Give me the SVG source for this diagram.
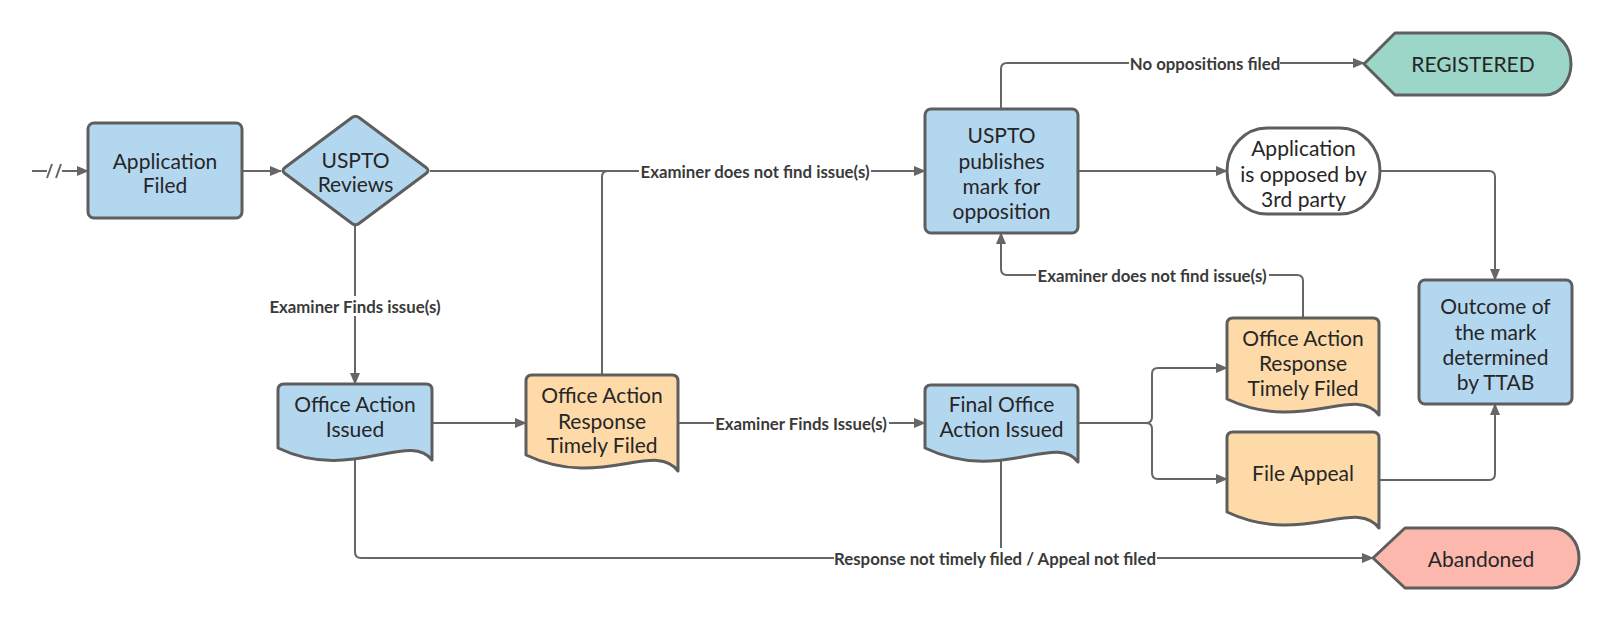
<svg xmlns="http://www.w3.org/2000/svg" width="1600" height="626" viewBox="0 0 1600 626">
<defs>
<marker id="arr" viewBox="0 0 12 10" refX="11" refY="5" markerWidth="12" markerHeight="10" markerUnits="userSpaceOnUse" orient="auto">
<path d="M0,0 L12,5 L0,10 Z" fill="#666"/>
</marker>
<style>
.n{stroke:#5e5e5e;stroke-width:3;stroke-linejoin:round}
.blue{fill:#b4d7f0}
.org{fill:#fedaa8}
.teal{fill:#9bd6c8}
.pink{fill:#fdb8ad}
.wht{fill:#fff}
.t{font-family:Lato,"Noto Sans","Liberation Sans",sans-serif;font-size:21px;fill:#262626;text-anchor:middle;dominant-baseline:central}
.c{fill:none;stroke:#666;stroke-width:2}
.ca{fill:none;stroke:#666;stroke-width:2;marker-end:url(#arr)}
.lb{fill:#fff}
.l{font-family:Lato,"Noto Sans","Liberation Sans",sans-serif;font-size:16.8px;font-weight:bold;fill:#3a3a3a;text-anchor:middle;dominant-baseline:central}
</style>
</defs>
<rect width="1600" height="626" fill="#fff"/>
<g id="connectors">
<path class="c" d="M32,171 H47"/>
<path class="c" stroke-width="2.5" d="M47,178 L52,164 M56,178 L61,164"/>
<path class="ca" d="M62,171 H88"/>
<path class="ca" d="M242,171 H281"/>
<path class="ca" d="M430,171 H925"/>
<path class="c" d="M602,375 V177 Q602,171 608,171 H640"/>
<path class="ca" d="M355,226 V384"/>
<path class="ca" d="M432,423 H526"/>
<path class="ca" d="M678,423 H925"/>
<path class="ca" d="M1078,171 H1227"/>
<path class="ca" d="M1001,109 V69 Q1001,63 1007,63 H1364"/>
<path class="ca" d="M1380,171 H1489 Q1495,171 1495,177 V280"/>
<path class="ca" d="M1303,318 V281 Q1303,275 1297,275 H1007 Q1001,275 1001,269 V233"/>
<path class="ca" d="M1078,423 H1146 Q1152,423 1152,417 V374 Q1152,368 1158,368 H1227"/>
<path class="ca" d="M1146,423 Q1152,423 1152,429 V473 Q1152,479 1158,479 H1227"/>
<path class="ca" d="M1379,480 H1489 Q1495,480 1495,474 V404"/>
<path class="ca" d="M355,456 V552 Q355,558 361,558 H1373"/>
<path class="c" d="M1001,452 V558"/>
<rect class="lb" x="639" y="161" width="232" height="20"/>
<text class="l" x="755" y="171">Examiner does not find issue(s)</text>
<rect class="lb" x="267" y="296" width="177" height="20"/>
<text class="l" x="355" y="306">Examiner Finds issue(s)</text>
<rect class="lb" x="714" y="413" width="175" height="20"/>
<text class="l" x="801" y="423">Examiner Finds Issue(s)</text>
<rect class="lb" x="1129" y="53" width="151" height="20"/>
<text class="l" x="1205" y="63">No oppositions filed</text>
<rect class="lb" x="1036" y="265" width="233" height="20"/>
<text class="l" x="1152" y="275">Examiner does not find issue(s)</text>
<rect class="lb" x="834" y="548" width="323" height="20"/>
<text class="l" x="995" y="558">Response not timely filed / Appeal not filed</text>
</g>
<g id="application-filed">
<rect class="n blue" x="88" y="123" width="154" height="95" rx="6"/>
<text class="t" x="165" y="160">Application</text>
<text class="t" x="165" y="184">Filed</text>
</g>
<g id="uspto-reviews">
<path class="n blue" d="M285,167.5 L352,117.5 Q355.5,115 359,117.5 L426,167.5 Q430,170.5 426,173.5 L359,223.5 Q355.5,226 352,223.5 L285,173.5 Q281,170.5 285,167.5 Z"/>
<text class="t" x="355.5" y="159">USPTO</text>
<text class="t" x="355.5" y="183">Reviews</text>
</g>
<g id="office-action-issued">
<path class="n blue" d="M284,384 H426 Q432,384 432,390 V460 C410,430 350,483 278,448 V390 Q278,384 284,384 Z"/>
<text class="t" x="355" y="403">Office Action</text>
<text class="t" x="355" y="428">Issued</text>
</g>
<g id="oa-response-1">
<path class="n org" d="M532,375 H672 Q678,375 678,381 V471 C655,440 600,490 526,455 V381 Q526,375 532,375 Z"/>
<text class="t" x="602" y="394">Office Action</text>
<text class="t" x="602" y="420">Response</text>
<text class="t" x="602" y="444">Timely Filed</text>
</g>
<g id="uspto-publishes">
<rect class="n blue" x="925" y="109" width="153" height="124" rx="6"/>
<text class="t" x="1001.5" y="134">USPTO</text>
<text class="t" x="1001.5" y="160">publishes</text>
<text class="t" x="1001.5" y="185">mark for</text>
<text class="t" x="1001.5" y="210">opposition</text>
</g>
<g id="final-office-action">
<path class="n blue" d="M931,385 H1072 Q1078,385 1078,391 V462 C1055,432 1000,484 925,448 V391 Q925,385 931,385 Z"/>
<text class="t" x="1001.5" y="403">Final Office</text>
<text class="t" x="1001.5" y="428">Action Issued</text>
</g>
<g id="registered">
<path class="n teal" d="M1364,64 L1395,33 H1545 A26,31 0 0 1 1545,95 H1395 Z"/>
<text class="t" x="1473" y="63">REGISTERED</text>
</g>
<g id="application-opposed">
<rect class="n wht" x="1227" y="128" width="153" height="86" rx="40" ry="43"/>
<text class="t" x="1303.5" y="147">Application</text>
<text class="t" x="1303.5" y="173">is opposed by</text>
<text class="t" x="1303.5" y="198">3rd party</text>
</g>
<g id="oa-response-2">
<path class="n org" d="M1233,318 H1373 Q1379,318 1379,324 V415 C1356,384 1301,434 1227,399 V324 Q1227,318 1233,318 Z"/>
<text class="t" x="1303" y="337">Office Action</text>
<text class="t" x="1303" y="362">Response</text>
<text class="t" x="1303" y="387">Timely Filed</text>
</g>
<g id="file-appeal">
<path class="n org" d="M1233,432 H1373 Q1379,432 1379,438 V528 C1356,497 1301,547 1227,512 V438 Q1227,432 1233,432 Z"/>
<text class="t" x="1303" y="472">File Appeal</text>
</g>
<g id="outcome">
<rect class="n blue" x="1419" y="280" width="153" height="124" rx="6"/>
<text class="t" x="1495.5" y="305">Outcome of</text>
<text class="t" x="1495.5" y="331">the mark</text>
<text class="t" x="1495.5" y="356">determined</text>
<text class="t" x="1495.5" y="381">by TTAB</text>
</g>
<g id="abandoned">
<path class="n pink" d="M1373,558 L1405,528 H1552 A27,30 0 0 1 1552,588 H1405 Z"/>
<text class="t" x="1481" y="558">Abandoned</text>
</g>
</svg>
